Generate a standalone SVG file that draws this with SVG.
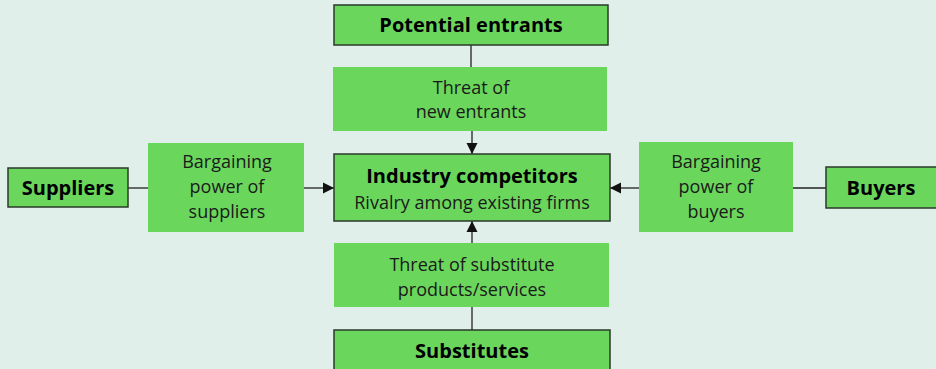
<svg xmlns="http://www.w3.org/2000/svg" width="936" height="369" viewBox="0 0 936 369">
<defs>
<marker id="arr" markerWidth="12" markerHeight="12" refX="11" refY="6" orient="auto" markerUnits="userSpaceOnUse">
<path d="M0,0.5 L11,6 L0,11.5 z" fill="#111"/>
</marker>
<style>
.bg{fill:#e0efe9}
.box{fill:#6bd65c;stroke:#2a3a2a;stroke-width:1.5}
.pl{fill:#6bd65c}
.b{font-family:"Open Sans","Noto Sans",sans-serif;font-weight:bold;font-size:20px;fill:#000;text-anchor:middle}
.r{font-family:"Open Sans","Noto Sans",sans-serif;font-size:18px;fill:#1a1a1a;text-anchor:middle}
.c{stroke:#222;stroke-width:1.3;fill:none}
</style>
</defs>
<rect class="bg" width="936" height="369"/>
<g id="connectors">
<line class="c" x1="471" y1="45" x2="471" y2="67"/>
<line class="c" x1="472" y1="131" x2="472" y2="154" marker-end="url(#arr)"/>
<line class="c" x1="472" y1="243" x2="472" y2="221" marker-end="url(#arr)"/>
<line class="c" x1="472" y1="307" x2="472" y2="330"/>
<line class="c" x1="128" y1="188" x2="148" y2="188"/>
<line class="c" x1="304" y1="188" x2="334" y2="188" marker-end="url(#arr)"/>
<line class="c" x1="639" y1="188" x2="610" y2="188" marker-end="url(#arr)"/>
<line class="c" x1="793" y1="188" x2="826" y2="188"/>
</g>
<g id="potential-entrants">
<rect class="box" x="334" y="5" width="274" height="40"/>
<text class="b" x="471" y="32">Potential entrants</text>
</g>
<g id="threat-new-entrants">
<rect class="pl" x="333" y="67" width="274" height="64"/>
<text class="r" x="471" y="94">Threat of</text>
<text class="r" x="471" y="118">new entrants</text>
</g>
<g id="industry-competitors">
<rect class="box" x="334" y="154" width="276" height="67"/>
<text class="b" x="472" y="183">Industry competitors</text>
<text class="r" x="472" y="209">Rivalry among existing firms</text>
</g>
<g id="threat-substitutes">
<rect class="pl" x="334" y="243" width="275" height="64"/>
<text class="r" x="472" y="271">Threat of substitute</text>
<text class="r" x="472" y="296">products/services</text>
</g>
<g id="substitutes">
<rect class="box" x="334" y="330" width="276" height="45"/>
<text class="b" x="472" y="358">Substitutes</text>
</g>
<g id="suppliers">
<rect class="box" x="8" y="168" width="120" height="39"/>
<text class="b" x="68" y="195">Suppliers</text>
</g>
<g id="bargaining-suppliers">
<rect class="pl" x="148" y="143" width="156" height="89"/>
<text class="r" x="227" y="168">Bargaining</text>
<text class="r" x="227" y="193">power of</text>
<text class="r" x="227" y="218">suppliers</text>
</g>
<g id="bargaining-buyers">
<rect class="pl" x="639" y="142" width="154" height="90"/>
<text class="r" x="716" y="168">Bargaining</text>
<text class="r" x="716" y="193">power of</text>
<text class="r" x="716" y="218">buyers</text>
</g>
<g id="buyers">
<rect class="box" x="826" y="167" width="115" height="41"/>
<text class="b" x="881" y="195">Buyers</text>
</g>
</svg>
